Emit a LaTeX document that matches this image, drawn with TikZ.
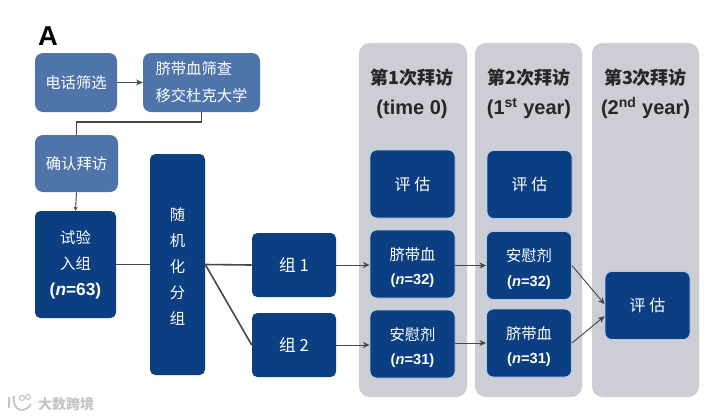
\documentclass[tikz,border=0pt]{standalone}
\usepackage{fontspec}
\setsansfont{Liberation Sans}
\newfontfamily\cjk{Noto Sans CJK SC}
\usetikzlibrary{arrows.meta,positioning,calc}
\definecolor{trialnavy}{HTML}{0B3F82}
\definecolor{trialsteel}{HTML}{4F74A9}
\definecolor{trialedge}{HTML}{A9CDEE}
\definecolor{visitgray}{HTML}{CDCDD6}
\definecolor{linkgray}{HTML}{45474C}
\definecolor{markgray}{HTML}{C4C4C4}
\newcommand{\nval}[2][11]{{\sffamily\bfseries\fontsize{#1}{19.5}\selectfont(\textit{n}=#2)}}
\newcommand{\yrfont}{\sffamily\fontsize{15}{22.5}\selectfont}
\newcommand{\armtop}{\rule{0pt}{15pt}}

\begin{document}
\begin{tikzpicture}[
  x=0.75pt, y=-0.75pt,
  font=\cjk,
  lite/.style  = {fill=trialsteel, rounded corners=6pt, inner sep=0pt, text=white, align=center,
                  font=\cjk\fontsize{11.5}{20}\selectfont},
  dark/.style  = {fill=trialnavy, rounded corners=4pt, inner sep=0pt, text=white, align=center,
                  font=\cjk\fontsize{11.5}{19.5}\selectfont},
  arm/.style   = {dark, draw=trialedge, line width=0.7pt, minimum width=63.75pt, minimum height=51pt,
                  rounded corners=5pt},
  grp/.style   = {dark, minimum width=63pt, minimum height=48pt, font=\cjk\fontsize{12.5}{19.5}\selectfont},
  ev/.style    = {arm, font=\cjk\fontsize{12}{19.5}\selectfont},
  visit/.style = {fill=visitgray, rounded corners=8pt, minimum height=265.5pt, inner sep=0pt},
  head/.style  = {inner sep=0pt, align=center, text=black!85, font=\cjk\bfseries\fontsize{13.5}{22.5}\selectfont},
  ln/.style    = {draw=linkgray, line width=1.2pt},
  arw/.style   = {-{Stealth[length=5pt,width=4.5pt]}, draw=linkgray, line width=0.7pt},
]
\path[use as bounding box, fill=white] (0,0) rectangle (720,419);

% --- the three visits -----------------------------------------------------
\node[visit, minimum width=81pt]    (visit1) at (413,220) {};
\node[visit, minimum width=80.25pt] (visit2) at (528.5,220) {};
\node[visit, minimum width=80.25pt] (visit3) at (645.5,220) {};
\node[head] (head1) at (412,94) {第1次拜访\\{\yrfont (time 0)}};
\node[head] (head2) at (529,94) {第2次拜访\\{\yrfont (1\textsuperscript{st} year)}};
\node[head] (head3) at (645.5,94) {第3次拜访\\{\yrfont (2\textsuperscript{nd} year)}};

% --- screening ------------------------------------------------------------
\node[inner sep=0pt, font=\sffamily\bfseries\fontsize{20.5}{20.5}\selectfont] (panel) at (48,36) {A};
\node[lite, minimum width=61.5pt, minimum height=44.25pt] (phone) at (76,82.5) {电话筛选};
\node[lite, minimum width=87.75pt, minimum height=44.25pt] (cord) at (201.5,82.5)
  {\begin{tabular}{@{}l@{}}脐带血筛查\\移交杜克大学\end{tabular}};
\node[lite, minimum width=62.25pt, minimum height=42.75pt] (confirm) at (76.5,163.5) {确认拜访};

% --- enrolment and randomisation ------------------------------------------
\node[dark, minimum width=60.75pt, minimum height=80.25pt] (enrol) at (75.5,264.5)
  {试验\\入组\\\nval[13]{63}};
\node[dark, minimum width=41.25pt, minimum height=165.75pt] (rand) at (177.5,264.5)
  {\rule{0pt}{12.7pt}随\\机\\化\\分\\组};
\node[grp] (grp1) at (294,265) {组 1};
\node[grp] (grp2) at (294,345) {组 2};

% --- boxes in the visits --------------------------------------------------
\node[ev]  (eval1) at (412.5,184) {评 估};
\node[arm] (cbA)   at (412.5,264) {\armtop 脐带血\\[-1pt]\nval{32}};
\node[arm] (plA)   at (412.5,344) {\armtop 安慰剂\\[-1pt]\nval{31}};
\node[ev]  (eval2) at (529.5,184.5) {评 估};
\node[arm] (plB)   at (529,265.5) {\armtop 安慰剂\\[-1pt]\nval{32}};
\node[arm] (cbB)   at (529,343) {\armtop 脐带血\\[-1pt]\nval{31}};
\node[ev]  (eval3) at (647.5,305.5) {评 估};

% --- connectors -----------------------------------------------------------
\draw[arw, line width=1.1pt] (phone.east) -- (cord.west);
\draw[ln] (cord.south) -- ++(0,10) -| (confirm.north);
\draw[arw, -{Stealth[length=3pt,width=3pt]}] (confirm.south) -- (enrol.north);
\draw[ln] (enrol.east) -- (rand.west);
\draw[ln] (rand.east) -- (grp1.west);
\draw[ln] (rand.east) -- (grp2.west);
\draw[arw] (grp1.east) -- (grp1.east -| cbA.west);
\draw[arw] (grp2.east) -- (grp2.east -| plA.west);
\draw[arw] (cbA.east |- plB.east) -- (plB.west);
\draw[arw] (plA.east |- cbB.east) -- (cbB.west);
\draw[arw] (plB.east) -- ([yshift=1pt]eval3.west);
\draw[arw] (cbB.east) -- ([yshift=-8pt]eval3.west);

% --- corner mark ----------------------------------------------------------
\draw[markgray, line width=1.3pt] (9,397) -- (9,408);
\draw[markgray, line width=1.3pt] (14,396) .. controls (12,413) and (26,413) .. (31,404);
\draw[markgray, line width=0.8pt] (22,398) circle[radius=2.5];
\draw[markgray, line width=0.8pt] (28,397) circle[radius=2.5];
\node[inner sep=0pt, text=markgray, font=\cjk\bfseries\fontsize{10.5}{10.5}\selectfont] (mark) at (66,404) {大数跨境};
\end{tikzpicture}
\end{document}
